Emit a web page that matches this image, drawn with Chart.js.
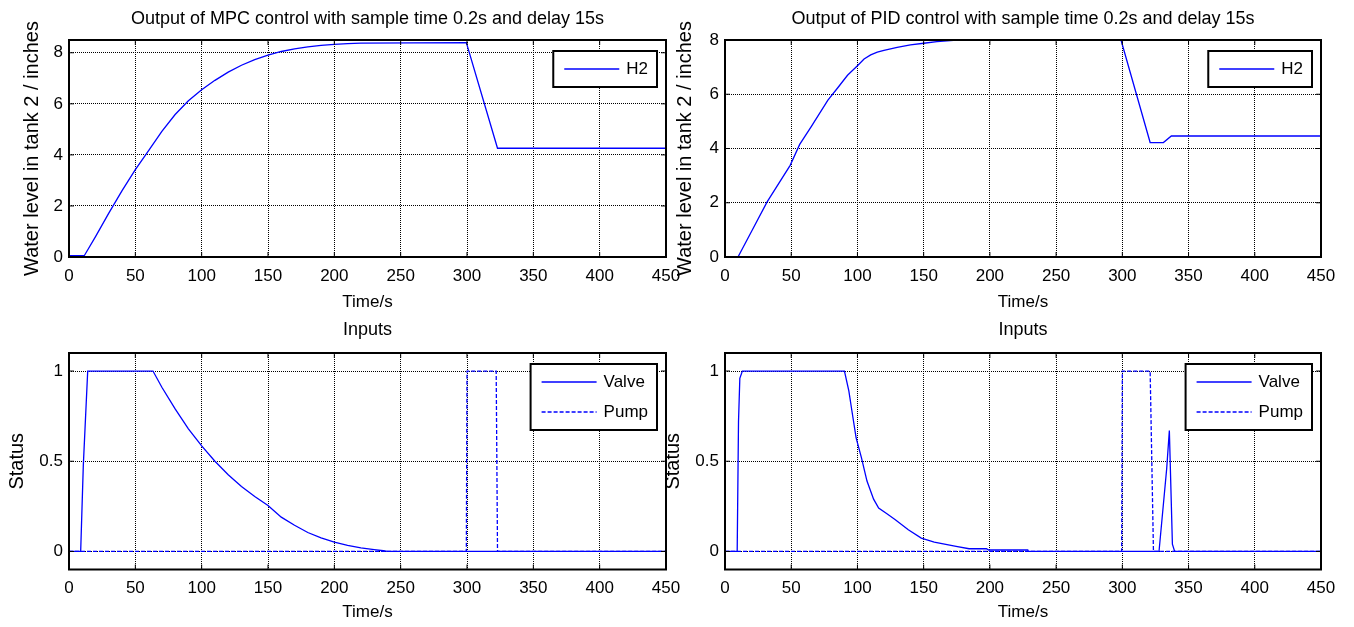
<!DOCTYPE html>
<html>
<head>
<meta charset="utf-8">
<title>MPC vs PID - tank 2</title>
<script src="https://cdn.jsdelivr.net/npm/chart.js@4.4.0/dist/chart.umd.min.js"></script>
<style>
    body { margin: 0; background: #fff; width: 1354px; height: 627px; overflow: hidden; position: relative; }
    canvas { position: absolute; }
</style>
</head>
<body>
<canvas id="mpcOut" width="690" height="318" style="left:0px;top:0px"></canvas>
<canvas id="pidOut" width="698" height="318" style="left:656px;top:0px"></canvas>
<canvas id="mpcIn" width="690" height="322" style="left:0px;top:305px"></canvas>
<canvas id="pidIn" width="698" height="322" style="left:656px;top:305px"></canvas>
<script>
// ticks
const timeTicks = [0, 50, 100, 150, 200, 250, 300, 350, 400, 450];
const levelTicks = [0, 2, 4, 6, 8];
const statusTicks = [0, 0.5, 1];

// MPC output, H2 (inches)
const mpcT = [0, 11.5, 20, 30, 40, 50, 60, 70, 80, 90, 100, 110, 120, 130, 140, 150, 160, 170, 180, 190, 200, 210, 220, 299.5, 323, 450];
const mpcH2 = [0.05, 0.05, 0.8, 1.72, 2.6, 3.42, 4.17, 4.92, 5.58, 6.12, 6.55, 6.92, 7.24, 7.51, 7.73, 7.91, 8.05, 8.15, 8.23, 8.29, 8.33, 8.36, 8.38, 8.4, 4.26, 4.26];

// PID output, H2 (inches)
const pidT = [0, 9.8, 20, 31.8, 49.2, 56.4, 65, 77.7, 85, 92.5, 100, 105, 110, 115, 120, 130, 140, 150, 160, 170, 175, 299, 321, 331, 337, 450];
const pidH2 = [0, 0, 0.94, 2.03, 3.38, 4.15, 4.8, 5.78, 6.23, 6.7, 7.05, 7.3, 7.45, 7.55, 7.62, 7.73, 7.82, 7.88, 7.94, 7.98, 8, 8, 4.22, 4.22, 4.46, 4.46];

// MPC inputs
const mpcValveT = [0, 8.8, 10.8, 14.1, 63.3, 70, 80, 90, 100, 110, 120, 130, 140, 150, 160, 170, 180, 190, 200, 210, 220, 230, 237, 240, 450];
const mpcValve = [0, 0, 0.48, 1, 1, 0.91, 0.79, 0.68, 0.585, 0.5, 0.425, 0.36, 0.305, 0.255, 0.19, 0.145, 0.105, 0.075, 0.052, 0.034, 0.02, 0.01, 0.004, 0, 0];
const mpcPumpT = [0, 299.5, 300, 322, 323, 450];
const mpcPump = [0, 0, 1, 1, 0, 0];

// PID inputs
const pidValveT = [0, 9.2, 10.2, 11.2, 13.1, 90.2, 93.5, 95.8, 99, 103, 107.2, 112.2, 116, 122, 128.6, 138.4, 148.2, 158, 174.5, 184.3, 197.4, 199, 228.6, 229, 327.7, 333.5, 335.5, 337.8, 339.5, 450];
const pidValve = [0, 0, 0.72, 0.96, 1, 1, 0.89, 0.78, 0.63, 0.52, 0.39, 0.29, 0.24, 0.21, 0.176, 0.12, 0.074, 0.052, 0.028, 0.015, 0.015, 0.008, 0.008, 0, 0, 0.46, 0.67, 0.04, 0, 0];
const pidPumpT = [0, 299.5, 300, 321, 323.5, 450];
const pidPump = [0, 0, 1, 1, 0, 0];

Chart.defaults.font.family = "'Liberation Sans', Arial, sans-serif";
Chart.defaults.color = '#000';

function pts(t, v) {
    return t.map((x, i) => ({ x: x, y: v[i] }));
}

function serie(label, t, v, dash) {
    return {
        label: label,
        data: pts(t, v),
        borderColor: '#0000ff',
        borderWidth: 1.3,
        borderDash: dash || [],
        pointRadius: 0,
        tension: 0
    };
}

// matlab style box: frame, inward ticks, legend with border
const matlabBox = {
    id: 'matlabBox',
    afterDraw(chart) {
        const { ctx, chartArea: a, scales } = chart;
        ctx.save();
        ctx.strokeStyle = '#000';
        ctx.lineWidth = 1;
        ctx.beginPath();
        scales.x.ticks.forEach(t => {
            const px = scales.x.getPixelForValue(t.value);
            ctx.moveTo(px, a.bottom); ctx.lineTo(px, a.bottom - 5);
            ctx.moveTo(px, a.top); ctx.lineTo(px, a.top + 5);
        });
        scales.y.ticks.forEach(t => {
            const py = scales.y.getPixelForValue(t.value);
            ctx.moveTo(a.left, py); ctx.lineTo(a.left + 5, py);
            ctx.moveTo(a.right, py); ctx.lineTo(a.right - 5, py);
        });
        ctx.stroke();
        ctx.lineWidth = 2;
        ctx.strokeRect(a.left, a.top, a.right - a.left, a.bottom - a.top);

        const sets = chart.data.datasets;
        ctx.font = "17px 'Liberation Sans', Arial, sans-serif";
        const textW = Math.max(...sets.map(d => ctx.measureText(d.label).width));
        const w = 11 + 55 + 7 + textW + 9;
        const h = 36 + (sets.length - 1) * 30;
        const x0 = a.right - 9 - w, y0 = a.top + 11;
        ctx.fillStyle = '#fff';
        ctx.fillRect(x0, y0, w, h);
        ctx.strokeRect(x0, y0, w, h);
        sets.forEach((d, i) => {
            const y = y0 + 18 + i * 30;
            ctx.strokeStyle = d.borderColor;
            ctx.lineWidth = d.borderWidth;
            ctx.setLineDash(d.borderDash);
            ctx.beginPath();
            ctx.moveTo(x0 + 11, y); ctx.lineTo(x0 + 66, y);
            ctx.stroke();
            ctx.setLineDash([]);
            ctx.fillStyle = '#000';
            ctx.textBaseline = 'middle';
            ctx.textAlign = 'left';
            ctx.fillText(d.label, x0 + 73, y);
        });
        ctx.restore();
    }
};

function crearGrafico(id, cfg) {
    const gridOpts = { color: '#000', lineWidth: 1, drawTicks: false };
    return new Chart(document.getElementById(id), {
        type: 'line',
        data: { datasets: cfg.datasets },
        options: {
            responsive: false,
            animation: false,
            events: [],
            layout: { padding: { left: 0, right: cfg.padRight, top: 0, bottom: cfg.padBottom } },
            plugins: {
                legend: { display: false },
                tooltip: { enabled: false },
                title: {
                    display: true,
                    fullSize: false,
                    text: cfg.title,
                    font: { size: 18, weight: 'normal' },
                    color: '#000',
                    padding: { top: cfg.titleTop, bottom: cfg.titleBottom }
                }
            },
            scales: {
                x: {
                    type: 'linear',
                    min: 0,
                    max: 450,
                    afterBuildTicks: s => { s.ticks = timeTicks.map(v => ({ value: v })); },
                    afterFit: s => { s.height = cfg.xHeight; },
                    ticks: { font: { size: 17 }, color: '#000', padding: 9, maxRotation: 0, callback: v => String(v) },
                    grid: gridOpts,
                    border: { display: false, dash: [1, 1] },
                    title: { display: true, text: 'Time/s', font: { size: 17 }, color: '#000', padding: 0 }
                },
                y: {
                    type: 'linear',
                    min: cfg.yMin,
                    max: cfg.yMax,
                    afterBuildTicks: s => { s.ticks = cfg.yTicks.map(v => ({ value: v })); },
                    afterFit: s => { s.width = 69; },
                    ticks: { font: { size: 17 }, color: '#000', padding: 6, callback: v => String(v) },
                    grid: gridOpts,
                    border: { display: false, dash: [1, 1] },
                    title: { display: true, text: cfg.yTitle, font: { size: 20 }, color: '#000', padding: { top: cfg.yTitlePad, bottom: 0 } }
                }
            }
        },
        plugins: [matlabBox]
    });
}

crearGrafico('mpcOut', {
    title: 'Output of MPC control with sample time 0.2s and delay 15s',
    yTitle: 'Water level in tank 2 / inches',
    yMin: 0, yMax: 8.5, yTicks: levelTicks,
    datasets: [serie('H2', mpcT, mpcH2)],
    padRight: 24, padBottom: 5.8, titleTop: 8.2, titleBottom: 10.2, xHeight: 55.2, yTitlePad: 20
});

crearGrafico('pidOut', {
    title: 'Output of PID control with sample time 0.2s and delay 15s',
    yTitle: 'Water level in tank 2 / inches',
    yMin: 0, yMax: 8, yTicks: levelTicks,
    datasets: [serie('H2', pidT, pidH2)],
    padRight: 33, padBottom: 5.8, titleTop: 8.2, titleBottom: 10.2, xHeight: 55.2, yTitlePad: 17
});

crearGrafico('mpcIn', {
    title: 'Inputs',
    yTitle: 'Status',
    yMin: -0.1, yMax: 1.1, yTicks: statusTicks,
    datasets: [serie('Valve', mpcValveT, mpcValve), serie('Pump', mpcPumpT, mpcPump, [4, 2])],
    padRight: 24, padBottom: 4.8, titleTop: 14.2, titleBottom: 12.2, xHeight: 52.7, yTitlePad: 5
});

crearGrafico('pidIn', {
    title: 'Inputs',
    yTitle: 'Status',
    yMin: -0.1, yMax: 1.1, yTicks: statusTicks,
    datasets: [serie('Valve', pidValveT, pidValve), serie('Pump', pidPumpT, pidPump, [4, 2])],
    padRight: 33, padBottom: 4.8, titleTop: 14.2, titleBottom: 12.2, xHeight: 52.7, yTitlePad: 5
});
</script>
</body>
</html>
